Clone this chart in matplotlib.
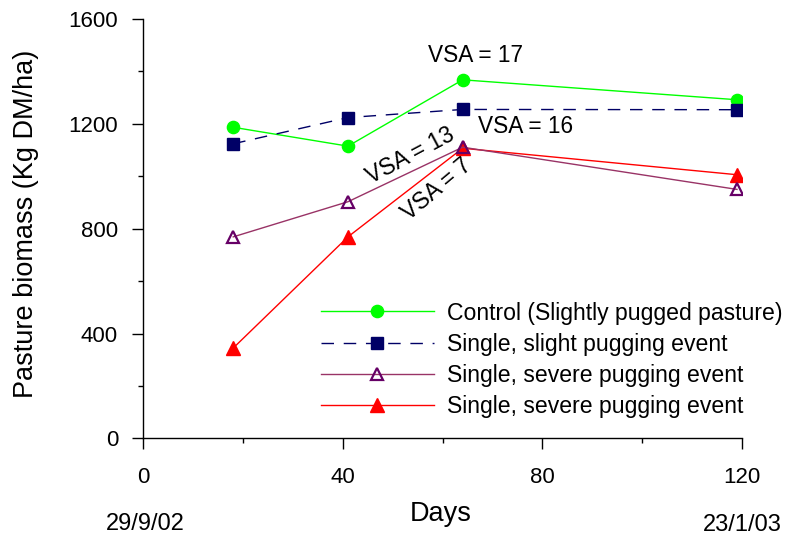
import matplotlib
matplotlib.use("Agg")
import matplotlib.pyplot as plt
from matplotlib.ticker import MultipleLocator

plt.rcParams['font.family'] = ['Liberation Sans', 'DejaVu Sans']

days = [18, 41, 64, 119]
control = [1187, 1115, 1368, 1292]
slight = [1124, 1224, 1255, 1254]
severe_open = [769, 903, 1111, 950]
severe_filled = [345, 769, 1107, 1006]
labels = ["Control (Slightly pugged pasture)",
          "Single, slight pugging event",
          "Single, severe pugging event",
          "Single, severe pugging event"]
x_ticks = [0, 40, 80, 120]
y_ticks = [0, 400, 800, 1200, 1600]

W, H = 787, 538
fig = plt.figure(figsize=(W / 100, H / 100), dpi=100)
ax = fig.add_axes([0.1823, 0.185, 0.7605, 0.7797])

ms = 8.8
l1, = ax.plot(days, control, color='#00ff00', lw=1, marker='o', ms=ms,
              mfc='#00ff00', mec='#00ff00', zorder=3, label=labels[0])
l2, = ax.plot(days, slight, color='#000066', lw=1, ls=(0, (9, 7)), marker='s', ms=ms,
              mfc='#000066', mec='#000066', zorder=4, label=labels[1])
l4, = ax.plot(days, severe_filled, color='#ff0000', lw=1, marker='^', ms=ms + 1,
              mfc='#ff0000', mec='#ff0000', zorder=5, label=labels[3])
l3, = ax.plot(days, severe_open, color='#993366', lw=1, marker='^', ms=ms,
              mfc='none', mec='#660066', mew=1.6, zorder=6, label=labels[2])

ax.set_xlim(0, 120)
ax.set_ylim(0, 1600)
ax.set_xticks(x_ticks)
ax.set_yticks(y_ticks)
ax.xaxis.set_minor_locator(MultipleLocator(20))
ax.yaxis.set_minor_locator(MultipleLocator(200))
ax.tick_params(axis='both', which='major', direction='out', length=7.8, width=1,
               labelsize=16)
ax.tick_params(axis='both', which='minor', direction='out', length=3.8, width=1)
ax.tick_params(axis='x', which='major', pad=13)
ax.tick_params(axis='y', which='major', pad=10.5)
for s in ['top', 'right']:
    ax.spines[s].set_visible(False)
for s in ['left', 'bottom']:
    ax.spines[s].set_linewidth(1)

fig.text(26 / W, 1 - 224 / H, "Pasture biomass (Kg DM/ha)", fontsize=19.5,
         rotation=90, ha='center', va='center')
fig.text(440.7 / W, 1 - 521 / H, "Days", fontsize=19.5, ha='center', va='baseline')
fig.text(145.5 / W, 1 - 530 / H, "29/9/02", fontsize=17, ha='center', va='baseline')
fig.text(742 / W, 1 - 531 / H, "23/1/03", fontsize=17, ha='center', va='baseline')

ax.text(66.6, 1460, "VSA = 17", fontsize=16.3, ha='center', va='center')
ax.text(76.6, 1189, "VSA = 16", fontsize=16.3, ha='center', va='center')
ax.text(53.6, 1079, "VSA = 13", fontsize=16.5, ha='center', va='center',
        rotation=28, rotation_mode='anchor')
ax.text(58.7, 949, "VSA = 7", fontsize=16.5, ha='center', va='center',
        rotation=40, rotation_mode='anchor')

fig.legend(handles=[l1, l2, l3, l4], labels=labels, loc='center left',
           bbox_to_anchor=(321 / W, 1 - 360 / H), frameon=False,
           fontsize=16.6, handlelength=4.9, handletextpad=0.55, labelspacing=0.36,
           borderpad=0, borderaxespad=0, numpoints=1)

fig.savefig("out.png", dpi=100)
